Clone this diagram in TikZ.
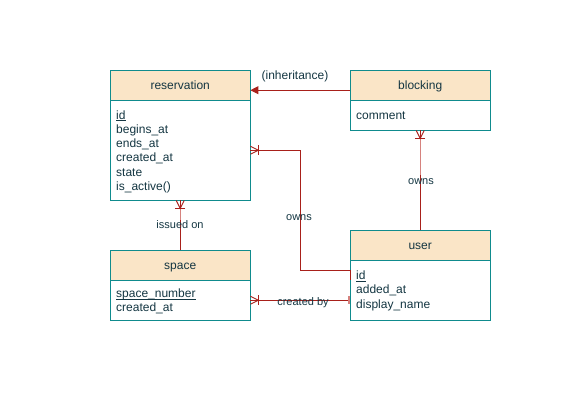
\documentclass[tikz,border=0pt]{standalone}
\usepackage{fontspec}
\setmainfont{Liberation Sans}
\usetikzlibrary{arrows.meta}
\definecolor{boxline}{HTML}{0F8B8D}
\definecolor{hdrfill}{HTML}{FAE5C7}
\definecolor{txt}{HTML}{143642}
\definecolor{edgecol}{HTML}{A8201A}
\definecolor{edgelight}{HTML}{D6827E}
\newcommand{\keyul}[1]{\underline{\smash{#1}}}
\tikzset{
  hdr/.style={draw=boxline, fill=hdrfill, minimum width=140pt, anchor=north west, inner sep=0pt,
    text=txt, font=\fontsize{12}{14}\selectfont, text height=9pt, text depth=1pt},
  bodybox/.style={draw=boxline, fill=white, minimum width=140pt, anchor=north west, inner sep=0pt},
  attr/.style={anchor=base west, inner sep=0pt, text=txt, font=\fontsize{12}{14}\selectfont},
  edge/.style={draw=edgecol, line width=0.9pt},
  elbl/.style={text=txt, font=\fontsize{11}{13}\selectfont, inner sep=0pt},
  crow/.pic={\draw[edge] (0,-4)--(8,0)--(0,4); \draw[edge] (8,-5)--(8,5);}
}
\begin{document}
\begin{tikzpicture}[x=1pt,y=-1pt]
\useasboundingbox (0,0) rectangle (582,413);
% reservation
\node[hdr, minimum height=30pt] (resH) at (110,70) {reservation};
\node[bodybox, minimum height=100pt] (resB) at (110,100) {};
\node[attr] (r1) at (116,119) {\keyul{id}};
\node[attr] (r2) at (116,133.3) {begins\_at};
\node[attr] (r3) at (116,147.6) {ends\_at};
\node[attr] (r4) at (116,161.9) {created\_at};
\node[attr] (r5) at (116,176.2) {state};
\node[attr] (r6) at (116,190.5) {is\_active()};
% blocking
\node[hdr, minimum height=30pt] (blkH) at (350,70) {blocking};
\node[bodybox, minimum height=30pt] (blkB) at (350,100) {};
\node[attr] (b1) at (356,119.5) {comment};
% space
\node[hdr, minimum height=30pt] (spcH) at (110,250) {space};
\node[bodybox, minimum height=40pt] (spcB) at (110,280) {};
\node[attr] (s1) at (116,297.5) {\keyul{space\_number}};
\node[attr] (s2) at (116,311.8) {created\_at};
% user
\node[hdr, minimum height=30pt] (usrH) at (350,230) {user};
\node[bodybox, minimum height=60pt] (usrB) at (350,260) {};
\node[attr] (u1) at (356,279.5) {\keyul{id}};
\node[attr] (u2) at (356,293.8) {added\_at};
\node[attr] (u3) at (356,308.1) {display\_name};
% inheritance
\draw[edge, -{Triangle[length=8pt, width=8pt]}] ([yshift=-5pt]blkH.west) -- ([yshift=-5pt]resH.east);
\node[elbl, font=\fontsize{12}{14}\selectfont] (l1) at (295,76.5) {(inheritance)};
% user owns reservation
\draw[edge] ([yshift=20pt]usrB.west) -- ++(-50,0) |- (resB.east);
\draw[edge] ([yshift=20pt]usrB.west) -- ++(0,10);
\pic at (resB.east) {crow};
\node[elbl] (l2) at (299,218) {owns};
% user owns blocking
\draw[edge] (usrH.north) -- (blkB.south);
\draw[draw=edgelight, line width=0.9pt] ([yshift=-9pt]blkB.south) -- ++(0,36);
\pic[rotate=-90] at (blkB.south) {crow};
\node[elbl] (l3) at (421,182) {owns};
% space issued on reservation
\draw[edge] (spcH.north) -- (resB.south);
\draw[draw=edgelight, line width=0.9pt] ([yshift=-9pt]resB.south) -- ++(0,11);
\pic[rotate=-90] at (resB.south) {crow};
\node[elbl] (l4) at (180,225) {issued on};
% user created by space
\draw[edge] ([yshift=-10pt]usrB.west) -- (spcB.east);
\draw[draw=edgelight, line width=1.2pt] ([yshift=-6pt, xshift=-1pt]usrB.west) -- ++(0,8);
\pic at (spcB.east) {crow};
\node[elbl] (l5) at (303,302.5) {created by};
\end{tikzpicture}
\end{document}
